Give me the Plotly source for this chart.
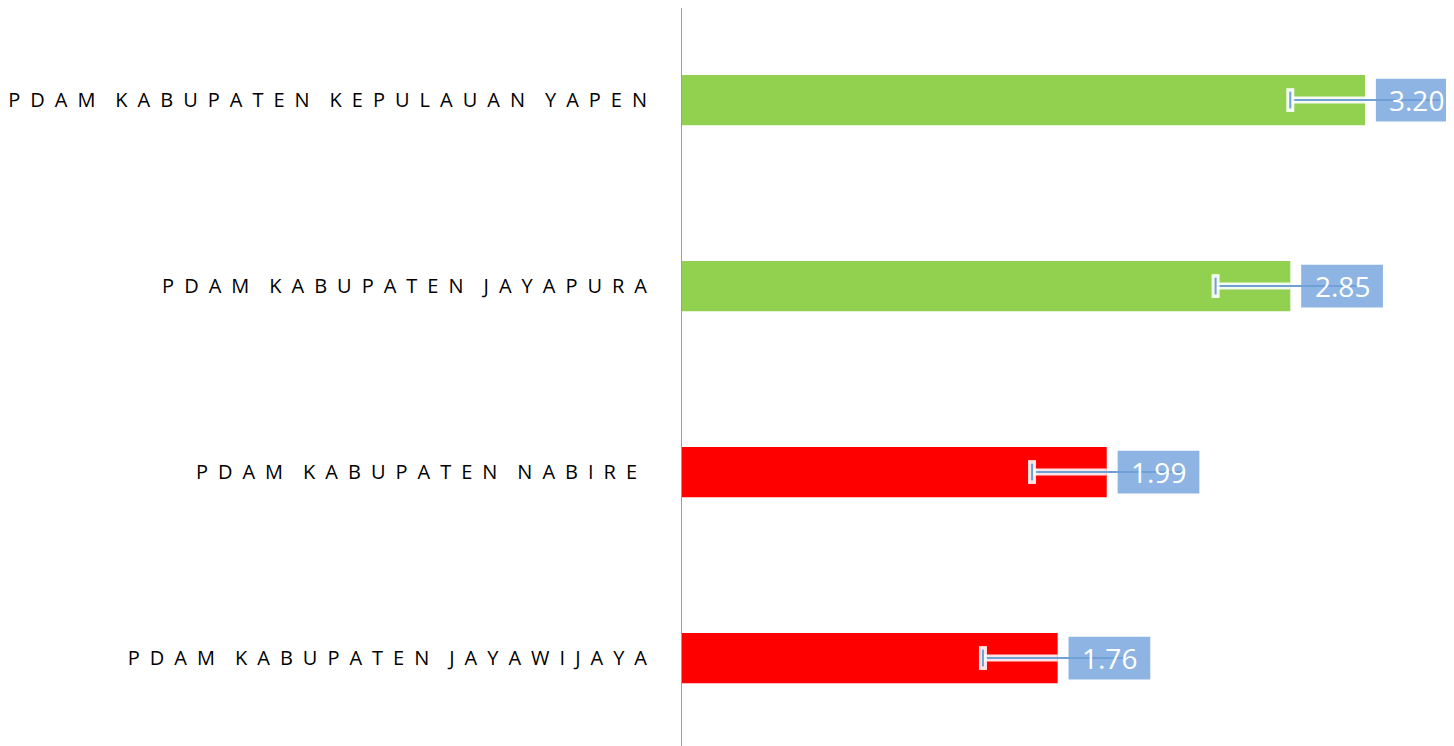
import plotly.graph_objects as go

categories = ["PDAM KABUPATEN KEPULAUAN YAPEN", "PDAM KABUPATEN JAYAPURA",
              "PDAM KABUPATEN NABIRE ", "PDAM KABUPATEN JAYAWIJAYA"]
values = [3.20, 2.85, 1.99, 1.76]
bar_colors = ["#92D050", "#92D050", "#FF0000", "#FF0000"]
err = [0.35, 0.35, 0.35, 0.35]

pos = list(range(len(categories)))


def spaced(label):
    # fake the letter spacing of the original with en spaces
    words = label.split(" ")
    out = "\u2002\u2002".join("\u2002".join(w) for w in words if w)
    if label.endswith(" "):
        out += "\u2002"
    return out


line_blue = "#6FA0D8"
box_blue = "#8DB4E2"

fig = go.Figure()
fig.add_trace(go.Bar(y=pos, x=values, orientation='h', width=0.27,
                     marker=dict(color=bar_colors, line=dict(width=0)), showlegend=False))

for i, v in enumerate(values):
    e = err[i]
    # white glow under the lower half of the error bar
    fig.add_trace(go.Scatter(x=[v - e, v], y=[i, i], mode='lines',
                             line=dict(color='rgba(255,255,255,0.9)', width=7), showlegend=False))
    fig.add_trace(go.Scatter(x=[v - e, v + e], y=[i, i], mode='lines',
                             line=dict(color=line_blue, width=2), showlegend=False))

caps = [v - e for v, e in zip(values, err)]
fig.add_trace(go.Scatter(x=caps, y=pos, mode='markers', showlegend=False,
                         marker=dict(symbol='line-ns', size=17, line=dict(color='rgba(255,255,255,0.9)', width=8))))
fig.add_trace(go.Scatter(x=caps, y=pos, mode='markers', showlegend=False,
                         marker=dict(symbol='line-ns', size=12, line=dict(color=line_blue, width=2))))

for i, v in enumerate(values):
    x0 = v + 0.051
    x1 = x0 + 0.383
    fig.add_shape(type='rect', xref='x', yref='y', x0=x0, x1=x1, y0=i - 0.115, y1=i + 0.115,
                  fillcolor=box_blue, line=dict(width=0), layer='below')
    fig.add_annotation(x=(x0 + x1) / 2, y=i, text=f"{v:.2f}", showarrow=False,
                       font=dict(family="Open Sans", size=28, color='white'))

fig.update_layout(
    width=1446, height=738,
    margin=dict(l=672, r=0, t=0, b=0),
    plot_bgcolor='white', paper_bgcolor='white',
    bargap=0.73,
)
fig.update_xaxes(range=[0, 3.617], visible=False)
fig.update_yaxes(range=[3.473, -0.495], tickvals=pos, ticktext=[spaced(c) for c in categories],
                 showgrid=False, zeroline=False, ticks='', showline=True,
                 linecolor='#6FA8E8', linewidth=1, ticklabelstandoff=30,
                 tickfont=dict(family="Open Sans", size=20, color='#000000'))

fig.write_html("out.html")
